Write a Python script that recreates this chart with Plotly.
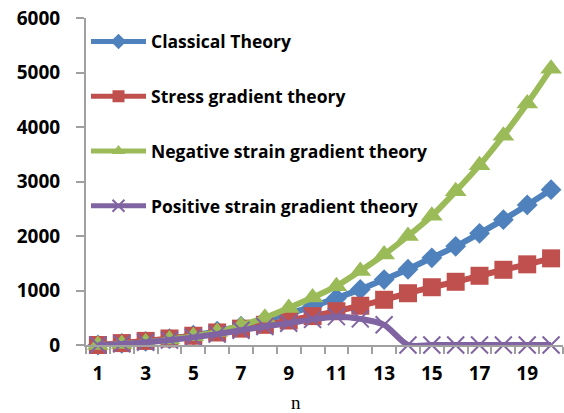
import plotly.graph_objects as go

# Mode number and the four theory curves
n = list(range(1, 21))
classical = [0, 30, 65, 115, 180, 255, 345, 455, 575, 710, 860, 1020, 1200, 1390, 1600, 1810, 2050, 2300, 2570, 2850]
stress = [0, 35, 75, 120, 170, 230, 300, 370, 450, 530, 620, 720, 830, 950, 1060, 1160, 1270, 1380, 1480, 1590]
negative = [0, 20, 50, 100, 160, 240, 360, 500, 680, 870, 1080, 1360, 1660, 2000, 2370, 2820, 3300, 3840, 4430, 5070]
positive = [0, 20, 50, 90, 140, 200, 270, 340, 400, 470, 520, 480, 370, 0, 0, 0, 0, 0, 0, 0]

x_tick_vals = [1, 3, 5, 7, 9, 11, 13, 15, 17, 19]
x_tick_text = [str(v) for v in x_tick_vals]
y_tick_vals = [0, 1000, 2000, 3000, 4000, 5000, 6000]

series = [
    ("Classical Theory", classical, "#4F81BD", dict(symbol="diamond", size=16)),
    ("Stress gradient theory", stress, "#C0504D", dict(symbol="square", size=18)),
    ("Negative strain gradient theory", negative, "#9BBB59", dict(symbol="triangle-up", size=19)),
    ("Positive strain gradient theory", positive, "#8064A2",
     dict(symbol="x-thin", size=17, line=dict(width=2, color="#8064A2"))),
]

fig = go.Figure()
for i, (name, vals, color, marker) in enumerate(series):
    fig.add_trace(go.Scatter(
        x=n, y=vals, name=name, mode="lines+markers",
        line=dict(color=color, width=6, shape="spline", smoothing=0.8),
        marker=dict(color=color, **marker),
        legendgroup=f"g{i}",
        cliponaxis=False,
    ))

axis_font = dict(family="Open Sans", size=19, color="black", weight="bold")

fig.update_layout(
    width=564, height=413,
    margin=dict(l=86, r=1, t=18, b=68),
    paper_bgcolor="white", plot_bgcolor="white",
    showlegend=True,
    legend=dict(
        x=0.0, y=0.983, xanchor="left", yanchor="top",
        bgcolor="rgba(0,0,0,0)",
        font=dict(family="Open Sans", size=17.5, color="black", weight="bold"),
        traceorder="grouped", tracegroupgap=29,
        itemwidth=55, itemsizing="constant",
    ),
    xaxis=dict(
        range=[0.5, 20.5], tickmode="array", tickvals=x_tick_vals, ticktext=x_tick_text,
        ticks="", showgrid=False, zeroline=False,
        showline=True, linecolor="#A0A0A0", linewidth=2,
        tickfont=axis_font, ticklabelstandoff=10,
        minor=dict(tickmode="linear", tick0=0.5, dtick=1, ticks="outside",
                   ticklen=7, tickcolor="#A0A0A0", tickwidth=2, showgrid=False),
    ),
    yaxis=dict(
        range=[0, 6000], tickmode="array", tickvals=y_tick_vals,
        ticks="outside", ticklen=8, tickcolor="#A0A0A0", tickwidth=2,
        showgrid=False, zeroline=False,
        showline=True, linecolor="#A0A0A0", linewidth=2,
        tickfont=axis_font, ticklabelstandoff=12,
    ),
    annotations=[dict(
        text="n", x=0.44, y=-0.175, xref="paper", yref="paper",
        xanchor="center", yanchor="middle", showarrow=False,
        font=dict(family="Liberation Serif", size=19, color="black"),
    )],
)

fig.write_html("out.html")
